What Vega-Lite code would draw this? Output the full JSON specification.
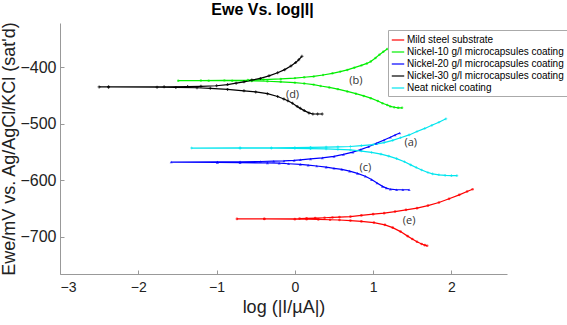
{
"$schema": "https://vega.github.io/schema/vega-lite/v6.json",
"width": 447, "height": 251,
"autosize": {"type": "none"},
"padding": {"left": 60, "top": 23, "right": 60, "bottom": 51},
"background": "white",
"config": {"view": {"stroke": null}, "font": "Liberation Sans"},
"title": {"text": "Ewe Vs. log|I|", "fontSize": 16, "fontWeight": "bold", "font": "Liberation Sans", "color": "#000", "anchor": "middle", "dx": -21, "offset": 3},
"datasets": {
"curves": [
{"s":"Mild steel substrate","i":1,"x":1.69,"y":-716},
{"s":"Mild steel substrate","i":2,"x":1.66,"y":-715},
{"s":"Mild steel substrate","i":3,"x":1.62,"y":-713},
{"s":"Mild steel substrate","i":4,"x":1.56,"y":-709},
{"s":"Mild steel substrate","i":5,"x":1.50,"y":-704},
{"s":"Mild steel substrate","i":6,"x":1.44,"y":-699},
{"s":"Mild steel substrate","i":7,"x":1.35,"y":-691},
{"s":"Mild steel substrate","i":8,"x":1.25,"y":-684},
{"s":"Mild steel substrate","i":9,"x":1.15,"y":-679},
{"s":"Mild steel substrate","i":10,"x":1.01,"y":-675},
{"s":"Mild steel substrate","i":11,"x":0.85,"y":-673},
{"s":"Mild steel substrate","i":12,"x":0.71,"y":-671.5},
{"s":"Mild steel substrate","i":13,"x":0.57,"y":-670.5},
{"s":"Mild steel substrate","i":14,"x":0.45,"y":-670},
{"s":"Mild steel substrate","i":15,"x":0.30,"y":-669.5},
{"s":"Mild steel substrate","i":16,"x":0.15,"y":-669},
{"s":"Mild steel substrate","i":17,"x":0.00,"y":-669},
{"s":"Mild steel substrate","i":18,"x":-0.39,"y":-668.7},
{"s":"Mild steel substrate","i":19,"x":-0.74,"y":-668.5},
{"s":"Mild steel substrate","i":20,"x":-0.39,"y":-668.3},
{"s":"Mild steel substrate","i":21,"x":0.06,"y":-668},
{"s":"Mild steel substrate","i":22,"x":0.15,"y":-667.5},
{"s":"Mild steel substrate","i":23,"x":0.26,"y":-667},
{"s":"Mild steel substrate","i":24,"x":0.38,"y":-666.5},
{"s":"Mild steel substrate","i":25,"x":0.48,"y":-666},
{"s":"Mild steel substrate","i":26,"x":0.57,"y":-665.3},
{"s":"Mild steel substrate","i":27,"x":0.71,"y":-664.4},
{"s":"Mild steel substrate","i":28,"x":0.85,"y":-662.3},
{"s":"Mild steel substrate","i":29,"x":1.00,"y":-660.2},
{"s":"Mild steel substrate","i":30,"x":1.14,"y":-658.4},
{"s":"Mild steel substrate","i":31,"x":1.28,"y":-655.5},
{"s":"Mild steel substrate","i":32,"x":1.42,"y":-652.5},
{"s":"Mild steel substrate","i":33,"x":1.56,"y":-649.6},
{"s":"Mild steel substrate","i":34,"x":1.70,"y":-645},
{"s":"Mild steel substrate","i":35,"x":1.84,"y":-639.5},
{"s":"Mild steel substrate","i":36,"x":1.97,"y":-633},
{"s":"Mild steel substrate","i":37,"x":2.10,"y":-626},
{"s":"Mild steel substrate","i":38,"x":2.20,"y":-620},
{"s":"Mild steel substrate","i":39,"x":2.27,"y":-616},
{"s":"Nickel-10 g/l microcapsules coating","i":1,"x":1.37,"y":-472},
{"s":"Nickel-10 g/l microcapsules coating","i":2,"x":1.32,"y":-472},
{"s":"Nickel-10 g/l microcapsules coating","i":3,"x":1.27,"y":-471},
{"s":"Nickel-10 g/l microcapsules coating","i":4,"x":1.22,"y":-469.5},
{"s":"Nickel-10 g/l microcapsules coating","i":5,"x":1.18,"y":-467},
{"s":"Nickel-10 g/l microcapsules coating","i":6,"x":1.12,"y":-464},
{"s":"Nickel-10 g/l microcapsules coating","i":7,"x":1.06,"y":-460},
{"s":"Nickel-10 g/l microcapsules coating","i":8,"x":0.97,"y":-455},
{"s":"Nickel-10 g/l microcapsules coating","i":9,"x":0.88,"y":-451},
{"s":"Nickel-10 g/l microcapsules coating","i":10,"x":0.78,"y":-447},
{"s":"Nickel-10 g/l microcapsules coating","i":11,"x":0.67,"y":-443},
{"s":"Nickel-10 g/l microcapsules coating","i":12,"x":0.55,"y":-439},
{"s":"Nickel-10 g/l microcapsules coating","i":13,"x":0.44,"y":-436},
{"s":"Nickel-10 g/l microcapsules coating","i":14,"x":0.33,"y":-433.5},
{"s":"Nickel-10 g/l microcapsules coating","i":15,"x":0.24,"y":-431},
{"s":"Nickel-10 g/l microcapsules coating","i":16,"x":0.12,"y":-429},
{"s":"Nickel-10 g/l microcapsules coating","i":17,"x":0.00,"y":-427.5},
{"s":"Nickel-10 g/l microcapsules coating","i":18,"x":-0.18,"y":-426},
{"s":"Nickel-10 g/l microcapsules coating","i":19,"x":-0.35,"y":-425},
{"s":"Nickel-10 g/l microcapsules coating","i":20,"x":-0.55,"y":-424.5},
{"s":"Nickel-10 g/l microcapsules coating","i":21,"x":-0.80,"y":-424},
{"s":"Nickel-10 g/l microcapsules coating","i":22,"x":-1.10,"y":-424},
{"s":"Nickel-10 g/l microcapsules coating","i":23,"x":-1.49,"y":-424},
{"s":"Nickel-10 g/l microcapsules coating","i":24,"x":-1.20,"y":-423.8},
{"s":"Nickel-10 g/l microcapsules coating","i":25,"x":-0.90,"y":-423.5},
{"s":"Nickel-10 g/l microcapsules coating","i":26,"x":-0.60,"y":-423},
{"s":"Nickel-10 g/l microcapsules coating","i":27,"x":-0.40,"y":-422},
{"s":"Nickel-10 g/l microcapsules coating","i":28,"x":-0.18,"y":-421},
{"s":"Nickel-10 g/l microcapsules coating","i":29,"x":0.00,"y":-419.5},
{"s":"Nickel-10 g/l microcapsules coating","i":30,"x":0.12,"y":-418},
{"s":"Nickel-10 g/l microcapsules coating","i":31,"x":0.24,"y":-416.5},
{"s":"Nickel-10 g/l microcapsules coating","i":32,"x":0.36,"y":-414},
{"s":"Nickel-10 g/l microcapsules coating","i":33,"x":0.48,"y":-411},
{"s":"Nickel-10 g/l microcapsules coating","i":34,"x":0.58,"y":-408},
{"s":"Nickel-10 g/l microcapsules coating","i":35,"x":0.67,"y":-405},
{"s":"Nickel-10 g/l microcapsules coating","i":36,"x":0.76,"y":-401},
{"s":"Nickel-10 g/l microcapsules coating","i":37,"x":0.85,"y":-397},
{"s":"Nickel-10 g/l microcapsules coating","i":38,"x":0.92,"y":-393.5},
{"s":"Nickel-10 g/l microcapsules coating","i":39,"x":0.97,"y":-390},
{"s":"Nickel-10 g/l microcapsules coating","i":40,"x":1.03,"y":-384},
{"s":"Nickel-10 g/l microcapsules coating","i":41,"x":1.08,"y":-378},
{"s":"Nickel-10 g/l microcapsules coating","i":42,"x":1.13,"y":-373},
{"s":"Nickel-10 g/l microcapsules coating","i":43,"x":1.18,"y":-368},
{"s":"Nickel-20 g/l microcapsules coating","i":1,"x":1.46,"y":-617},
{"s":"Nickel-20 g/l microcapsules coating","i":2,"x":1.38,"y":-617},
{"s":"Nickel-20 g/l microcapsules coating","i":3,"x":1.30,"y":-617},
{"s":"Nickel-20 g/l microcapsules coating","i":4,"x":1.22,"y":-616},
{"s":"Nickel-20 g/l microcapsules coating","i":5,"x":1.17,"y":-614},
{"s":"Nickel-20 g/l microcapsules coating","i":6,"x":1.12,"y":-611},
{"s":"Nickel-20 g/l microcapsules coating","i":7,"x":1.05,"y":-605},
{"s":"Nickel-20 g/l microcapsules coating","i":8,"x":0.98,"y":-599},
{"s":"Nickel-20 g/l microcapsules coating","i":9,"x":0.90,"y":-593},
{"s":"Nickel-20 g/l microcapsules coating","i":10,"x":0.80,"y":-588},
{"s":"Nickel-20 g/l microcapsules coating","i":11,"x":0.70,"y":-584},
{"s":"Nickel-20 g/l microcapsules coating","i":12,"x":0.60,"y":-581},
{"s":"Nickel-20 g/l microcapsules coating","i":13,"x":0.50,"y":-579},
{"s":"Nickel-20 g/l microcapsules coating","i":14,"x":0.40,"y":-577},
{"s":"Nickel-20 g/l microcapsules coating","i":15,"x":0.28,"y":-575},
{"s":"Nickel-20 g/l microcapsules coating","i":16,"x":0.17,"y":-573.5},
{"s":"Nickel-20 g/l microcapsules coating","i":17,"x":0.07,"y":-572},
{"s":"Nickel-20 g/l microcapsules coating","i":18,"x":-0.08,"y":-571},
{"s":"Nickel-20 g/l microcapsules coating","i":19,"x":-0.20,"y":-570},
{"s":"Nickel-20 g/l microcapsules coating","i":20,"x":-0.35,"y":-569.5},
{"s":"Nickel-20 g/l microcapsules coating","i":21,"x":-0.70,"y":-569},
{"s":"Nickel-20 g/l microcapsules coating","i":22,"x":-0.99,"y":-568.5},
{"s":"Nickel-20 g/l microcapsules coating","i":23,"x":-1.58,"y":-568},
{"s":"Nickel-20 g/l microcapsules coating","i":24,"x":-0.99,"y":-567.8},
{"s":"Nickel-20 g/l microcapsules coating","i":25,"x":-0.70,"y":-567.5},
{"s":"Nickel-20 g/l microcapsules coating","i":26,"x":-0.44,"y":-567},
{"s":"Nickel-20 g/l microcapsules coating","i":27,"x":-0.27,"y":-566.5},
{"s":"Nickel-20 g/l microcapsules coating","i":28,"x":-0.14,"y":-566},
{"s":"Nickel-20 g/l microcapsules coating","i":29,"x":-0.01,"y":-565},
{"s":"Nickel-20 g/l microcapsules coating","i":30,"x":0.07,"y":-564},
{"s":"Nickel-20 g/l microcapsules coating","i":31,"x":0.20,"y":-562.5},
{"s":"Nickel-20 g/l microcapsules coating","i":32,"x":0.35,"y":-560.5},
{"s":"Nickel-20 g/l microcapsules coating","i":33,"x":0.50,"y":-558},
{"s":"Nickel-20 g/l microcapsules coating","i":34,"x":0.62,"y":-554.5},
{"s":"Nickel-20 g/l microcapsules coating","i":35,"x":0.74,"y":-550.5},
{"s":"Nickel-20 g/l microcapsules coating","i":36,"x":0.84,"y":-546},
{"s":"Nickel-20 g/l microcapsules coating","i":37,"x":0.94,"y":-541},
{"s":"Nickel-20 g/l microcapsules coating","i":38,"x":1.04,"y":-535},
{"s":"Nickel-20 g/l microcapsules coating","i":39,"x":1.14,"y":-529},
{"s":"Nickel-20 g/l microcapsules coating","i":40,"x":1.22,"y":-524},
{"s":"Nickel-20 g/l microcapsules coating","i":41,"x":1.28,"y":-520},
{"s":"Nickel-20 g/l microcapsules coating","i":42,"x":1.34,"y":-516.5},
{"s":"Nickel-30 g/l microcapsules coating","i":1,"x":0.35,"y":-483},
{"s":"Nickel-30 g/l microcapsules coating","i":2,"x":0.29,"y":-483},
{"s":"Nickel-30 g/l microcapsules coating","i":3,"x":0.23,"y":-483},
{"s":"Nickel-30 g/l microcapsules coating","i":4,"x":0.18,"y":-481},
{"s":"Nickel-30 g/l microcapsules coating","i":5,"x":0.12,"y":-477},
{"s":"Nickel-30 g/l microcapsules coating","i":6,"x":0.07,"y":-473},
{"s":"Nickel-30 g/l microcapsules coating","i":7,"x":0.03,"y":-469.5},
{"s":"Nickel-30 g/l microcapsules coating","i":8,"x":-0.03,"y":-464},
{"s":"Nickel-30 g/l microcapsules coating","i":9,"x":-0.09,"y":-459.5},
{"s":"Nickel-30 g/l microcapsules coating","i":10,"x":-0.14,"y":-456.5},
{"s":"Nickel-30 g/l microcapsules coating","i":11,"x":-0.22,"y":-452},
{"s":"Nickel-30 g/l microcapsules coating","i":12,"x":-0.35,"y":-447},
{"s":"Nickel-30 g/l microcapsules coating","i":13,"x":-0.50,"y":-444},
{"s":"Nickel-30 g/l microcapsules coating","i":14,"x":-0.65,"y":-442},
{"s":"Nickel-30 g/l microcapsules coating","i":15,"x":-0.86,"y":-439.5},
{"s":"Nickel-30 g/l microcapsules coating","i":16,"x":-1.08,"y":-437.5},
{"s":"Nickel-30 g/l microcapsules coating","i":17,"x":-1.25,"y":-436.5},
{"s":"Nickel-30 g/l microcapsules coating","i":18,"x":-1.52,"y":-436},
{"s":"Nickel-30 g/l microcapsules coating","i":19,"x":-1.76,"y":-435.5},
{"s":"Nickel-30 g/l microcapsules coating","i":20,"x":-2.38,"y":-435},
{"s":"Nickel-30 g/l microcapsules coating","i":21,"x":-2.50,"y":-435},
{"s":"Nickel-30 g/l microcapsules coating","i":22,"x":-2.38,"y":-435},
{"s":"Nickel-30 g/l microcapsules coating","i":23,"x":-1.67,"y":-434.8},
{"s":"Nickel-30 g/l microcapsules coating","i":24,"x":-1.37,"y":-434.5},
{"s":"Nickel-30 g/l microcapsules coating","i":25,"x":-1.20,"y":-434},
{"s":"Nickel-30 g/l microcapsules coating","i":26,"x":-1.00,"y":-433},
{"s":"Nickel-30 g/l microcapsules coating","i":27,"x":-0.86,"y":-431},
{"s":"Nickel-30 g/l microcapsules coating","i":28,"x":-0.75,"y":-428.5},
{"s":"Nickel-30 g/l microcapsules coating","i":29,"x":-0.65,"y":-426},
{"s":"Nickel-30 g/l microcapsules coating","i":30,"x":-0.55,"y":-423},
{"s":"Nickel-30 g/l microcapsules coating","i":31,"x":-0.44,"y":-420},
{"s":"Nickel-30 g/l microcapsules coating","i":32,"x":-0.33,"y":-415.5},
{"s":"Nickel-30 g/l microcapsules coating","i":33,"x":-0.22,"y":-410},
{"s":"Nickel-30 g/l microcapsules coating","i":34,"x":-0.13,"y":-404.5},
{"s":"Nickel-30 g/l microcapsules coating","i":35,"x":-0.05,"y":-398},
{"s":"Nickel-30 g/l microcapsules coating","i":36,"x":0.01,"y":-392},
{"s":"Nickel-30 g/l microcapsules coating","i":37,"x":0.05,"y":-387},
{"s":"Nickel-30 g/l microcapsules coating","i":38,"x":0.09,"y":-381},
{"s":"Neat nickel coating","i":1,"x":2.07,"y":-592},
{"s":"Neat nickel coating","i":2,"x":2.00,"y":-592},
{"s":"Neat nickel coating","i":3,"x":1.92,"y":-591.5},
{"s":"Neat nickel coating","i":4,"x":1.84,"y":-590.5},
{"s":"Neat nickel coating","i":5,"x":1.76,"y":-589},
{"s":"Neat nickel coating","i":6,"x":1.70,"y":-586.5},
{"s":"Neat nickel coating","i":7,"x":1.62,"y":-582},
{"s":"Neat nickel coating","i":8,"x":1.55,"y":-577.5},
{"s":"Neat nickel coating","i":9,"x":1.48,"y":-573},
{"s":"Neat nickel coating","i":10,"x":1.40,"y":-567.5},
{"s":"Neat nickel coating","i":11,"x":1.30,"y":-562},
{"s":"Neat nickel coating","i":12,"x":1.20,"y":-557.5},
{"s":"Neat nickel coating","i":13,"x":1.10,"y":-554},
{"s":"Neat nickel coating","i":14,"x":0.98,"y":-551},
{"s":"Neat nickel coating","i":15,"x":0.85,"y":-548.5},
{"s":"Neat nickel coating","i":16,"x":0.71,"y":-546.5},
{"s":"Neat nickel coating","i":17,"x":0.55,"y":-545.5},
{"s":"Neat nickel coating","i":18,"x":0.40,"y":-544.8},
{"s":"Neat nickel coating","i":19,"x":0.20,"y":-544.3},
{"s":"Neat nickel coating","i":20,"x":0.00,"y":-544},
{"s":"Neat nickel coating","i":21,"x":-0.30,"y":-543.6},
{"s":"Neat nickel coating","i":22,"x":-0.70,"y":-543.4},
{"s":"Neat nickel coating","i":23,"x":-1.32,"y":-543.2},
{"s":"Neat nickel coating","i":24,"x":-0.70,"y":-543},
{"s":"Neat nickel coating","i":25,"x":-0.30,"y":-542.7},
{"s":"Neat nickel coating","i":26,"x":0.00,"y":-542.3},
{"s":"Neat nickel coating","i":27,"x":0.20,"y":-542},
{"s":"Neat nickel coating","i":28,"x":0.40,"y":-541.6},
{"s":"Neat nickel coating","i":29,"x":0.55,"y":-541.1},
{"s":"Neat nickel coating","i":30,"x":0.71,"y":-540.5},
{"s":"Neat nickel coating","i":31,"x":0.85,"y":-539},
{"s":"Neat nickel coating","i":32,"x":1.00,"y":-537},
{"s":"Neat nickel coating","i":33,"x":1.14,"y":-533.5},
{"s":"Neat nickel coating","i":34,"x":1.25,"y":-529.5},
{"s":"Neat nickel coating","i":35,"x":1.35,"y":-525},
{"s":"Neat nickel coating","i":36,"x":1.46,"y":-520},
{"s":"Neat nickel coating","i":37,"x":1.56,"y":-514},
{"s":"Neat nickel coating","i":38,"x":1.66,"y":-508.5},
{"s":"Neat nickel coating","i":39,"x":1.75,"y":-503},
{"s":"Neat nickel coating","i":40,"x":1.84,"y":-497.5},
{"s":"Neat nickel coating","i":41,"x":1.93,"y":-491.5}
],
"notes": [
{"t":"(a)","x":1.48,"y":-534},
{"t":"(b)","x":0.78,"y":-424},
{"t":"(c)","x":0.90,"y":-579},
{"t":"(d)","x":-0.03,"y":-449},
{"t":"(e)","x":1.46,"y":-673}
]
},
"encoding": {
"x": {"field": "x", "type": "quantitative", "scale": {"domain": [-3, 2.71], "nice": false, "zero": false},
  "axis": {"values": [-3, -2, -1, 0, 1, 2], "title": "log (|I/µA|)", "grid": false, "domainColor": "#999", "tickColor": "#999", "tickSize": -4, "labelPadding": 10, "labelFontSize": 14, "labelColor": "#222", "labelFont": "Liberation Sans", "titleFont": "Liberation Sans", "titleFontSize": 18, "titleFontWeight": "normal", "titleColor": "#222", "titlePadding": 4}},
"y": {"field": "y", "type": "quantitative", "scale": {"domain": [-766, -322], "nice": false, "zero": false},
  "axis": {"values": [-700, -600, -500, -400], "title": "Ewe/mV vs. Ag/AgCl/KCl (sat'd)", "grid": false, "domainColor": "#999", "tickColor": "#999", "tickSize": -4, "labelPadding": 8, "labelFontSize": 16, "labelColor": "#222", "labelFont": "Liberation Sans", "titleFont": "Liberation Sans", "titleFontSize": 18, "titleFontWeight": "normal", "titleColor": "#222", "titlePadding": 1}}
},
"layer": [
{"data": {"name": "curves"},
 "mark": {"type": "line", "strokeWidth": 1.2},
 "encoding": {
  "order": {"field": "i", "type": "quantitative"},
  "color": {"field": "s", "type": "nominal",
    "scale": {"domain": ["Mild steel substrate", "Nickel-10 g/l microcapsules coating", "Nickel-20 g/l microcapsules coating", "Nickel-30 g/l microcapsules coating", "Neat nickel coating"], "range": ["#ff0000", "#00ee00", "#0000ff", "#000000", "#00e5ee"]},
    "legend": {"title": null, "orient": "none", "legendX": 328, "legendY": 7, "symbolType": "stroke", "symbolSize": 155, "symbolStrokeWidth": 1.2, "labelFontSize": 10, "labelFont": "Liberation Sans", "labelColor": "#000", "strokeColor": "#aaa", "fillColor": "white", "padding": 3, "rowPadding": 0, "labelLimit": 300, "labelOffset": 2}}
 }},
{"data": {"name": "curves"}, "transform": [{"filter": "datum.s == 'Mild steel substrate'"}],
 "mark": {"type": "point", "filled": true, "size": 7, "shape": "circle", "color": "#ff0000"}},
{"data": {"name": "curves"}, "transform": [{"filter": "datum.s == 'Nickel-10 g/l microcapsules coating'"}],
 "mark": {"type": "point", "filled": true, "size": 6, "shape": "circle", "color": "#00ee00"}},
{"data": {"name": "curves"}, "transform": [{"filter": "datum.s == 'Nickel-20 g/l microcapsules coating'"}],
 "mark": {"type": "point", "filled": true, "size": 9, "shape": "triangle-up", "color": "#0000ff"}},
{"data": {"name": "curves"}, "transform": [{"filter": "datum.s == 'Nickel-30 g/l microcapsules coating'"}],
 "mark": {"type": "point", "filled": true, "size": 9, "shape": "cross", "color": "#000000"}},
{"data": {"name": "curves"}, "transform": [{"filter": "datum.s == 'Neat nickel coating'"}],
 "mark": {"type": "point", "filled": true, "size": 7, "shape": "cross", "color": "#00e5ee"}},
{"data": {"name": "notes"},
 "mark": {"type": "text", "font": "Open Sans", "fontSize": 11, "color": "#333", "align": "center", "baseline": "middle"},
 "encoding": {"text": {"field": "t"}}}
]
}
